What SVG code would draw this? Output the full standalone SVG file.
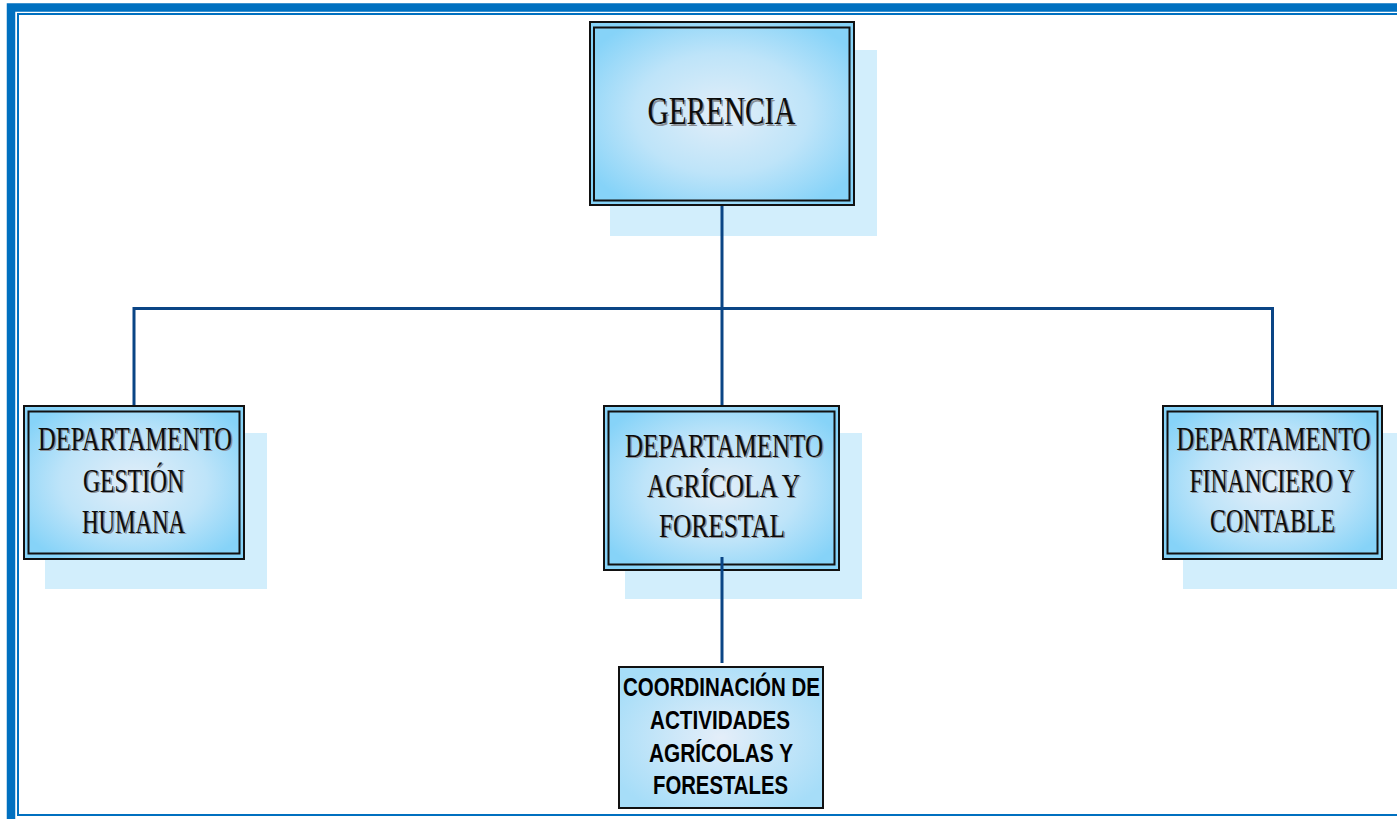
<svg xmlns="http://www.w3.org/2000/svg" width="1397" height="819" viewBox="0 0 1397 819">
  <defs>
    <radialGradient id="boxFill" cx="0.5" cy="0.5" r="0.6">
      <stop offset="0" stop-color="#E2EEF9"/>
      <stop offset="0.55" stop-color="#BEE4F9"/>
      <stop offset="1" stop-color="#86D3F8"/>
    </radialGradient>
    <radialGradient id="coordFill" cx="0.5" cy="0.5" r="0.6">
      <stop offset="0" stop-color="#E4EEF9"/>
      <stop offset="1" stop-color="#A6DDF8"/>
    </radialGradient>
    <style>
      .frame-outer { fill: none; stroke: #0070C0; stroke-width: 8.5; }
      .frame-inner { fill: none; stroke: #0070C0; stroke-width: 2; }
      .shadow { fill: #D2EEFC; }
      .box-outer { fill: url(#boxFill); stroke: #111; stroke-width: 2; }
      .box-inner { fill: none; stroke: #111; stroke-width: 2; }
      .coord { fill: url(#coordFill); stroke: #111; stroke-width: 2; }
      .link { fill: none; stroke: #0A4585; stroke-width: 3; }
      .deco { font-family: "Liberation Serif", "DejaVu Serif", serif; text-anchor: middle; }
      .deco-shade { fill: #8a8f96; }
      .deco-ink { fill: #0c0c0c; }
      .plain { font-family: "Liberation Sans", Arial, sans-serif; font-weight: bold; font-size: 25px; fill: #000; text-anchor: middle; }
    </style>
  </defs>

  <!-- page frame -->
  <rect class="frame-outer" x="11" y="7.5" width="1420" height="830"/>
  <rect class="frame-inner" x="18" y="14" width="1420" height="801"/>

  <!-- top node; lettering is condensed horizontally by the group transform -->
  <g id="gerencia">
    <rect class="shadow" x="610" y="50" width="267" height="186"/>
    <rect class="box-outer" x="590" y="22" width="264" height="183"/>
    <rect class="box-inner" x="594" y="27.5" width="255.5" height="173"/>
    <g class="deco" font-size="40" transform="translate(721.5 0) scale(0.72 1)">
      <text class="deco-shade" x="2.08" y="126" textLength="205.6" lengthAdjust="spacingAndGlyphs">GERENCIA</text>
      <text class="deco-ink" x="0" y="124.5" textLength="205.6" lengthAdjust="spacingAndGlyphs">GERENCIA</text>
    </g>
  </g>

  <!-- left department -->
  <g id="gestion-humana">
    <rect class="shadow" x="45" y="433" width="222" height="156"/>
    <rect class="box-outer" x="24" y="406" width="220" height="153"/>
    <rect class="box-inner" x="28.5" y="411.5" width="211" height="142"/>
    <g class="deco" font-size="33" transform="translate(134 0) scale(0.72 1)">
      <text class="deco-shade" x="3.47" y="451.5" textLength="269.4" lengthAdjust="spacingAndGlyphs">DEPARTAMENTO</text>
      <text class="deco-ink" x="1.39" y="450" textLength="269.4" lengthAdjust="spacingAndGlyphs">DEPARTAMENTO</text>
      <text class="deco-shade" x="1.39" y="493.5" textLength="140.3" lengthAdjust="spacingAndGlyphs">GESTIÓN</text>
      <text class="deco-ink" x="-0.69" y="492" textLength="140.3" lengthAdjust="spacingAndGlyphs">GESTIÓN</text>
      <text class="deco-shade" x="1.39" y="534.5" textLength="143.1" lengthAdjust="spacingAndGlyphs">HUMANA</text>
      <text class="deco-ink" x="-0.69" y="533" textLength="143.1" lengthAdjust="spacingAndGlyphs">HUMANA</text>
    </g>
  </g>

  <!-- middle department -->
  <g id="agricola-forestal">
    <rect class="shadow" x="625" y="433" width="237" height="166"/>
    <rect class="box-outer" x="604" y="406" width="235" height="164"/>
    <rect class="box-inner" x="608.5" y="411.5" width="226" height="153"/>
    <g class="deco" font-size="34" transform="translate(722 0) scale(0.72 1)">
      <text class="deco-shade" x="4.86" y="458.5" textLength="275" lengthAdjust="spacingAndGlyphs">DEPARTAMENTO</text>
      <text class="deco-ink" x="2.78" y="457" textLength="275" lengthAdjust="spacingAndGlyphs">DEPARTAMENTO</text>
      <text class="deco-shade" x="4.17" y="498.5" textLength="212.5" lengthAdjust="spacingAndGlyphs">AGRÍCOLA Y</text>
      <text class="deco-ink" x="2.08" y="497" textLength="212.5" lengthAdjust="spacingAndGlyphs">AGRÍCOLA Y</text>
      <text class="deco-shade" x="2.08" y="538.5" textLength="175" lengthAdjust="spacingAndGlyphs">FORESTAL</text>
      <text class="deco-ink" x="0" y="537" textLength="175" lengthAdjust="spacingAndGlyphs">FORESTAL</text>
    </g>
  </g>

  <!-- right department (shadow runs to the page edge) -->
  <g id="financiero-contable">
    <rect class="shadow" x="1183" y="433" width="214" height="156"/>
    <rect class="box-outer" x="1163" y="406" width="219" height="153"/>
    <rect class="box-inner" x="1167.5" y="411.5" width="210" height="142"/>
    <g class="deco" font-size="33" transform="translate(1272.5 0) scale(0.72 1)">
      <text class="deco-shade" x="3.47" y="451.5" textLength="269.4" lengthAdjust="spacingAndGlyphs">DEPARTAMENTO</text>
      <text class="deco-ink" x="1.39" y="450" textLength="269.4" lengthAdjust="spacingAndGlyphs">DEPARTAMENTO</text>
      <text class="deco-shade" x="1.39" y="493.5" textLength="229.2" lengthAdjust="spacingAndGlyphs">FINANCIERO Y</text>
      <text class="deco-ink" x="-0.69" y="492" textLength="229.2" lengthAdjust="spacingAndGlyphs">FINANCIERO Y</text>
      <text class="deco-shade" x="2.08" y="533.5" textLength="173.6" lengthAdjust="spacingAndGlyphs">CONTABLE</text>
      <text class="deco-ink" x="0" y="532" textLength="173.6" lengthAdjust="spacingAndGlyphs">CONTABLE</text>
    </g>
  </g>

  <!-- coordination unit -->
  <g id="coordinacion">
    <rect class="coord" x="619" y="667" width="204" height="141"/>
    <text class="plain" x="721.5" y="696" textLength="197" lengthAdjust="spacingAndGlyphs">COORDINACIÓN DE</text>
    <text class="plain" x="720" y="729" textLength="140" lengthAdjust="spacingAndGlyphs">ACTIVIDADES</text>
    <text class="plain" x="721" y="762" textLength="144" lengthAdjust="spacingAndGlyphs">AGRÍCOLAS Y</text>
    <text class="plain" x="720.5" y="794" textLength="135" lengthAdjust="spacingAndGlyphs">FORESTALES</text>
  </g>

  <!-- connectors, drawn over the box shadows -->
  <g id="connectors">
    <line class="link" x1="722" y1="206" x2="722" y2="405"/>
    <polyline class="link" points="134,405 134,308.5 1272.5,308.5 1272.5,405"/>
    <line class="link" x1="722" y1="557" x2="722" y2="663"/>
  </g>
</svg>
